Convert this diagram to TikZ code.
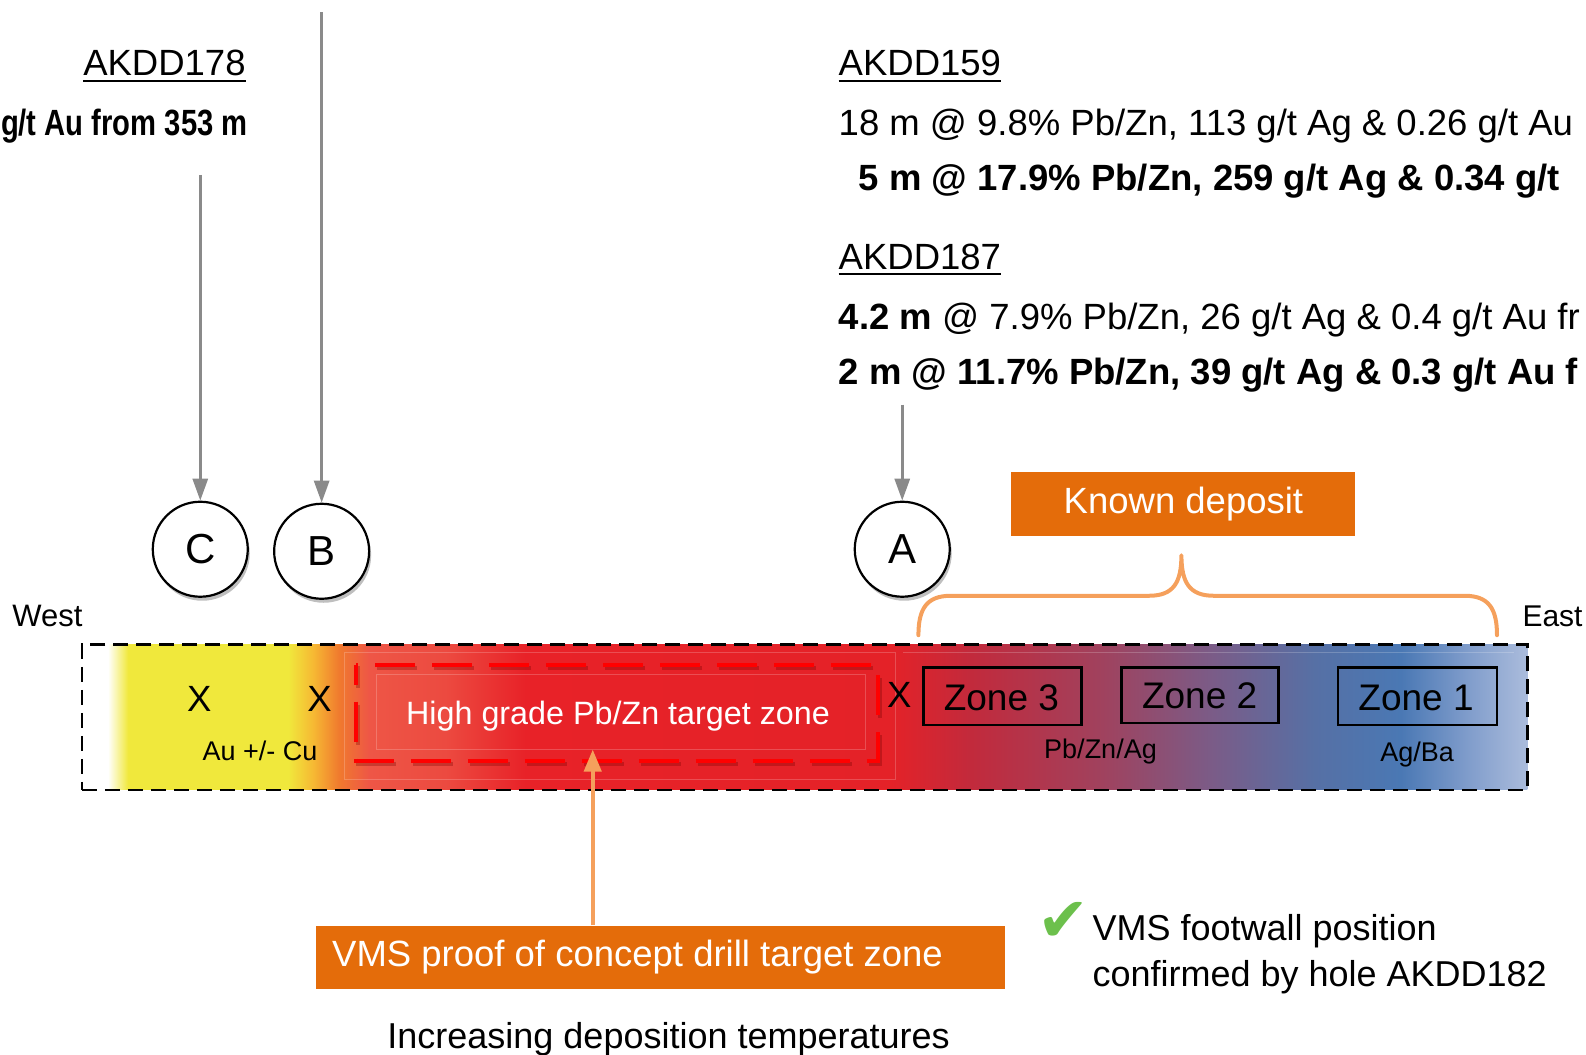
\documentclass[tikz,border=0pt]{standalone}
\usepackage{fontspec}
\setmainfont{Liberation Sans}
\newfontfamily\symfont{DejaVu Sans}
\usetikzlibrary{arrows.meta,shadows,fit,calc}

\definecolor{orangebox}{HTML}{E46C0A}
\definecolor{orangeline}{HTML}{F5A05C}
\definecolor{arrowgray}{HTML}{8A8A8A}
\definecolor{checkgreen}{HTML}{6CC04C}
\definecolor{cy}{HTML}{F0E83C}
\definecolor{co1}{HTML}{F6B833}
\definecolor{co2}{HTML}{F07A2E}
\definecolor{cs1}{HTML}{EE5646}
\definecolor{cs2}{HTML}{EC4A40}
\definecolor{cr1}{HTML}{E82228}
\definecolor{cr2}{HTML}{E42228}
\definecolor{cr3}{HTML}{C22A3C}
\definecolor{cp1}{HTML}{A0425E}
\definecolor{cp2}{HTML}{7A5C88}
\definecolor{cb1}{HTML}{5670A5}
\definecolor{cb2}{HTML}{4A78B4}
\definecolor{cb3}{HTML}{7F9CCB}
\definecolor{cb4}{HTML}{ABBCDC}

\pgfdeclarehorizontalshading{barshade}{100bp}{color(0bp)=(white); color(25bp)=(white); color(25.9bp)=(white); color(26.6bp)=(cy); color(32.14bp)=(cy); color(33.01bp)=(co1); color(33.89bp)=(co2); color(34.94bp)=(cs1); color(37.56bp)=(cs2); color(40.36bp)=(cr1); color(52.96bp)=(cr2); color(55.76bp)=(cr3); color(60.3bp)=(cp1); color(64.15bp)=(cp2); color(67.65bp)=(cb1); color(70.63bp)=(cb2); color(72.9bp)=(cb3); color(75bp)=(cb4); color(100bp)=(cb4)}

\tikzset{
  txt/.style={inner sep=0pt, font=\fontsize{36.5}{44}\selectfont},
  small/.style={inner sep=0pt, font=\fontsize{27}{32}\selectfont},
  uline/.style={line width=2.4pt, black},
  circ/.style={circle, draw=black, line width=2.2pt, fill=white, minimum size=95pt, inner sep=0pt,
    font=\fontsize{42}{48}\selectfont,
    drop shadow={shadow xshift=2pt, shadow yshift=-4pt, opacity=0.25, fill=black}},
  garrow/.style={draw=arrowgray, line width=3pt, -{Triangle[width=15pt,length=22pt]}},
  oarrow/.style={draw=orangeline, line width=4pt, -{Triangle[width=17pt,length=22pt]}},
  obox/.style={fill=orangebox, inner sep=0pt},
  olabel/.style={text=white, inner sep=0pt, font=\fontsize{36.5}{44}\selectfont},
  zonebox/.style={draw=black, line width=2.5pt, inner sep=0pt},
  zonelabel/.style={inner sep=0pt, font=\fontsize{37}{44}\selectfont},
  faint/.style={draw=white, opacity=0.2, line width=1pt},
  bracestyle/.style={draw=orangeline, line width=4pt, line cap=round, line join=round},
}

\begin{document}
\begin{tikzpicture}[x=1.0115pt, y=-1.0115pt]
\useasboundingbox (0,0) rectangle (1568,1043);

% ---- top left text
\node[txt, anchor=base east] (h178) at (243,75) {AKDD178};
\draw[uline] ([yshift=-5pt]h178.base west) -- ([yshift=-5pt]h178.base east);
\node[txt, anchor=base east] (r178) at (245,134) {\scalebox{0.8}[1]{\bfseries g/t Au from 353 m}};

% ---- top right text
\node[txt, anchor=base west] (h159) at (829,75) {AKDD159};
\draw[uline] ([yshift=-5pt]h159.base west) -- ([yshift=-5pt]h159.base east);
\node[txt, anchor=base west] (l159a) at (829,134) {18 m @ 9.8\% Pb/Zn, 113 g/t Ag \& 0.26 g/t Au};
\node[txt, anchor=base west] (l159b) at (849,188) {\bfseries 5 m @ 17.9\% Pb/Zn, 259 g/t Ag \& 0.34 g/t};
\node[txt, anchor=base west] (h187) at (829,266) {AKDD187};
\draw[uline] ([yshift=-5pt]h187.base west) -- ([yshift=-5pt]h187.base east);
\node[txt, anchor=base west] (l187a) at (829,326) {\textbf{4.2 m} @ 7.9\% Pb/Zn, 26 g/t Ag \& 0.4 g/t Au fr};
\node[txt, anchor=base west] (l187b) at (829,380) {\bfseries 2 m @ 11.7\% Pb/Zn, 39 g/t Ag \& 0.3 g/t Au f};

% ---- drill holes
\node[circ] (C) at (198,543) {C};
\node[circ] (B) at (318,545) {B};
\node[circ] (A) at (892,543) {A};
\coordinate (Ctop) at (198,173);
\coordinate (Btop) at (318,12);
\coordinate (Atop) at (892,400);
\draw[garrow] (Ctop) -- (C.north);
\draw[garrow] (Btop) -- (B.north);
\draw[garrow] (Atop) -- (A.north);

% ---- known deposit
\node[obox, fit={(1000,467) (1340,530)}] (kd) {};
\node[olabel] (kdl) at (kd.center) {Known deposit};
\draw[bracestyle] (908,628) .. controls (908,602) and (916,589) .. (940,589) -- (1136,589)
  .. controls (1160,589) and (1168,576) .. (1168,549)
  .. controls (1168,576) and (1176,589) .. (1200,589) -- (1448,589)
  .. controls (1472,589) and (1480,602) .. (1480,628);

\node[inner sep=0pt, font=\fontsize{31}{36}\selectfont, anchor=base west] (west) at (12,619) {West};
\node[inner sep=0pt, font=\fontsize{30}{36}\selectfont, anchor=base west] (east) at (1505,619) {East};

% ---- gradient bar
\shade[shading=barshade] (81,637) rectangle (1510,781);
\draw[faint] (341,645) rectangle (885,771);
\draw[faint] (372,667) rectangle (856,741);
\draw[faint] (893,645) -- (1497,645);

% red dashed target zone
\draw[red!45!black, opacity=0.3, line width=4pt, dash pattern=on 40pt off 17pt, dash phase=20pt]
  (354,660) rectangle (870,755);
\draw[red, line width=4pt, dash pattern=on 40pt off 17pt, dash phase=20pt]
  (352,657) rectangle (868,752);

\node[fit={(81,637) (1510,781)}, inner sep=0pt, draw=black, line width=2.5pt,
  dash pattern=on 15pt off 8pt] (bar) {};

\node[txt, anchor=base] (x1) at (197,703) {X};
\node[txt, anchor=base] (x2) at (316,703) {X};
\node[small, anchor=base] (aucu) at (257,752) {Au +/- Cu};
\node[inner sep=0pt, font=\fontsize{32.3}{38}\selectfont, text=white, anchor=base] (hg) at (611,716) {High grade Pb/Zn target zone};
\node[txt, anchor=base] (x3) at (889,699) {X};

\node[zonebox, fit={(913,660) (1069,717)}] (z3) {};
\node[zonebox, fit={(1109,660) (1264,715)}] (z2) {};
\node[zonebox, fit={(1323,660) (1480,717)}] (z1) {};
\node[zonelabel, anchor=base] (z3l) at (990,702) {Zone 3};
\node[zonelabel, anchor=base] (z2l) at (1186,700) {Zone 2};
\node[zonelabel, anchor=base] (z1l) at (1400,702) {Zone 1};
\node[small, anchor=base] (pbzn) at (1088,750) {Pb/Zn/Ag};
\node[small, anchor=base] (agba) at (1401,753) {Ag/Ba};

% ---- bottom
\node[obox, fit={(312,915) (994,978)}] (vms) {};
\node[olabel] (vmsl) at ([xshift=-23pt]vms.center) {VMS proof of concept drill target zone};
\coordinate (tip) at (586,741);
\draw[oarrow] (vms.north -| tip) -- (tip);

\node[inner sep=0pt, font=\fontsize{36}{44}\selectfont, anchor=base] (inc) at (661,1037) {Increasing deposition temperatures};

\node[inner sep=0pt, anchor=base west, text=checkgreen, font=\symfont\fontsize{62}{66}\selectfont] (chk) at (1026,931) {✔};
\node[inner sep=0pt, font=\fontsize{36}{44}\selectfont, anchor=base west] (f1) at (1080,930) {VMS footwall position};
\node[inner sep=0pt, font=\fontsize{36}{44}\selectfont, anchor=base west] (f2) at (1080,975) {confirmed by hole AKDD182};
\end{tikzpicture}
\end{document}
